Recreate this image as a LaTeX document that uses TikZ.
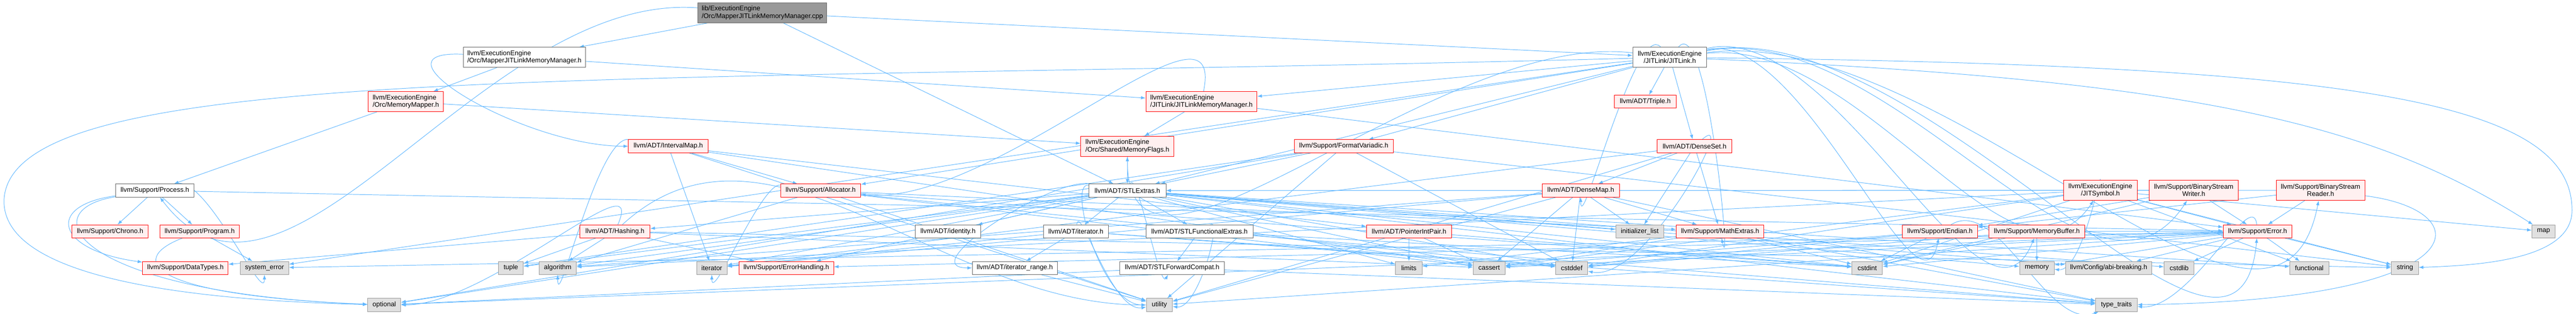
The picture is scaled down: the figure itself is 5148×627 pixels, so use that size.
\documentclass[tikz,border=0pt]{standalone}
\usepackage{fontspec}
\setmainfont{Liberation Sans}
\usetikzlibrary{arrows.meta,backgrounds}

\definecolor{edgeblue}{RGB}{99,184,255}
\definecolor{redfill}{RGB}{255,240,240}
\definecolor{grayfill}{RGB}{224,224,224}
\definecolor{grayline}{RGB}{153,153,153}
\definecolor{darkline}{RGB}{102,102,102}

\tikzset{
  incbox/.style={draw, line width=0.75pt, font=\fontsize{10pt}{11pt}\selectfont, inner xsep=2pt, inner ysep=1pt, minimum height=19.5pt},
  rootbox/.style={incbox, fill=grayline, draw=darkline},
  whitebox/.style={incbox, fill=white, draw=darkline},
  redbox/.style={incbox, fill=redfill, draw=red},
  sysbox/.style={incbox, fill=grayfill, draw=grayline},
  bw/.style={minimum width=#1*0.75pt},
  twoline/.style={minimum height=30pt, align=#1},
  dep/.style={draw=edgeblue, line width=0.75pt, -{Latex[length=7pt,width=5pt]}}
}

\begin{document}
\begin{tikzpicture}[x=0.75pt,y=0.75pt,yscale=-1,xscale=1]
\useasboundingbox (0,0) rectangle (5148,627);

% Text Node
\draw (1523.5,25.5) node [rootbox, bw=257, twoline=left] (cpp) {lib/ExecutionEngine\\/Orc/MapperJITLinkMemoryManager.cpp};
% Text Node
\draw (1048,114.5) node [whitebox, bw=244, twoline=left] (mjlmmh) {llvm/ExecutionEngine\\/Orc/MapperJITLinkMemoryManager.h};
% Text Node
\draw (3337,114.5) node [whitebox, bw=148, twoline=center] (jitlink) {llvm/ExecutionEngine\\/JITLink/JITLink.h};
% Text Node
\draw (811,203) node [redbox, bw=150, twoline=left] (memmapper) {llvm/ExecutionEngine\\/Orc/MemoryMapper.h};
% Text Node
\draw (2401,203) node [redbox, bw=222, twoline=left] (jlmm) {llvm/ExecutionEngine\\/JITLink/JITLinkMemoryManager.h};
% Text Node
\draw (3288,203) node [redbox, bw=124] (triple) {llvm/ADT/Triple.h};
% Text Node
\draw (1335.5,292) node [redbox, bw=159] (intervalmap) {llvm/ADT/IntervalMap.h};
% Text Node
\draw (2253,292) node [redbox, bw=186, twoline=left] (memflags) {llvm/ExecutionEngine\\/Orc/Shared/MemoryFlags.h};
% Text Node
\draw (2685.5,292) node [redbox, bw=197] (formatv) {llvm/Support/FormatVariadic.h};
% Text Node
\draw (3386.5,292) node [redbox, bw=149] (denseset) {llvm/ADT/DenseSet.h};
% Text Node
\draw (309.5,380.5) node [whitebox, bw=157] (process) {llvm/Support/Process.h};
% Text Node
\draw (1640,380.5) node [redbox, bw=160] (allocator) {llvm/Support/Allocator.h};
% Text Node
\draw (2253,380.5) node [whitebox, bw=154] (stlextras) {llvm/ADT/STLExtras.h};
% Text Node
\draw (3159,380.5) node [redbox, bw=154] (densemap) {llvm/ADT/DenseMap.h};
% Text Node
\draw (4197.5,380) node [redbox, bw=147, twoline=center] (jitsymbol) {llvm/ExecutionEngine\\/JITSymbol.h};
% Text Node
\draw (4384,380) node [redbox, bw=178, twoline=center] (bswriter) {llvm/Support/BinaryStream\\Writer.h};
% Text Node
\draw (4637.5,380) node [redbox, bw=177, twoline=center] (bsreader) {llvm/Support/BinaryStream\\Reader.h};
% Text Node
\draw (220,462) node [redbox, bw=152] (chrono) {llvm/Support/Chrono.h};
% Text Node
\draw (399,462) node [redbox, bw=158] (program) {llvm/Support/Program.h};
% Text Node
\draw (1229,462) node [redbox, bw=140] (hashing) {llvm/ADT/Hashing.h};
% Text Node
\draw (1894.5,462) node [whitebox, bw=131] (identity) {llvm/ADT/identity.h};
% Text Node
\draw (2150,462) node [whitebox, bw=130] (iteratorh) {llvm/ADT/iterator.h};
% Text Node
\draw (2397,462) node [whitebox, bw=214] (stlfunc) {llvm/ADT/STLFunctionalExtras.h};
% Text Node
\draw (2816,462) node [redbox, bw=170] (pointerint) {llvm/ADT/PointerIntPair.h};
% Text Node
\draw (3277,462) node [sysbox, bw=96] (initlist) {initializer\_list};
% Text Node
\draw (3437.5,462) node [redbox, bw=175] (mathextras) {llvm/Support/MathExtras.h};
% Text Node
\draw (3877,462) node [redbox, bw=150] (endian) {llvm/Support/Endian.h};
% Text Node
\draw (4070.5,462) node [redbox, bw=191] (memorybuffer) {llvm/Support/MemoryBuffer.h};
% Text Node
\draw (4511.5,462) node [redbox, bw=137] (errorh) {llvm/Support/Error.h};
% Text Node
\draw (5083,462) node [sysbox, bw=46] (map) {map};
% Text Node
\draw (370.5,535) node [redbox, bw=171] (datatypes) {llvm/Support/DataTypes.h};
% Text Node
\draw (528.5,535) node [sysbox, bw=97] (syserror) {system\_error};
% Text Node
\draw (1021,535) node [sysbox, bw=50] (tuple) {tuple};
% Text Node
\draw (1114.5,535) node [sysbox, bw=75] (algorithm) {algorithm};
% Text Node
\draw (1422.5,535) node [sysbox, bw=61] (iterator) {iterator};
% Text Node
\draw (1571.5,535) node [redbox, bw=189] (errhandling) {llvm/Support/ErrorHandling.h};
% Text Node
\draw (2028,535) node [whitebox, bw=170] (iterrange) {llvm/ADT/iterator\_range.h};
% Text Node
\draw (2342.5,535) node [whitebox, bw=209] (stlfwd) {llvm/ADT/STLForwardCompat.h};
% Text Node
\draw (2815.5,535) node [sysbox, bw=53] (limits) {limits};
% Text Node
\draw (2976,535) node [sysbox, bw=64] (cassert) {cassert};
% Text Node
\draw (3141,535) node [sysbox, bw=64] (cstddef) {cstddef};
% Text Node
\draw (3731.5,535) node [sysbox, bw=61] (cstdint) {cstdint};
% Text Node
\draw (4070.5,535) node [sysbox, bw=69] (memory) {memory};
% Text Node
\draw (4214,535) node [sysbox, bw=172] (abibreaking) {llvm/Config/abi-breaking.h};
% Text Node
\draw (4355,535) node [sysbox, bw=60] (cstdlib) {cstdlib};
% Text Node
\draw (4615,535) node [sysbox, bw=78] (functional) {functional};
% Text Node
\draw (4806,535) node [sysbox, bw=54] (string) {string};
% Text Node
\draw (768,609) node [sysbox, bw=66] (optional) {optional};
% Text Node
\draw (2317,609) node [sysbox, bw=52] (utility) {utility};
% Text Node
\draw (4229.5,609) node [sysbox, bw=83] (typetraits) {type\_traits};

\begin{scope}[on background layer]
%Straight Lines: the .cpp file
\draw [dep] (cpp) -- (mjlmmh);
\draw [dep] (cpp) -- (stlextras);
\draw [dep] (cpp) -- (jitlink);
\draw [dep] (cpp) to [out=188,in=55] (process);
%Straight Lines: MapperJITLinkMemoryManager.h
\draw [dep] (mjlmmh) to [out=190,in=180,looseness=1.5] (intervalmap);
\draw [dep] (mjlmmh) -- (jlmm);
\draw [dep] (mjlmmh) -- (memmapper);
%Straight Lines: MemoryMapper.h
\draw [dep] (memmapper) -- (process);
\draw [dep] (memmapper) -- (memflags);
%Straight Lines: JITLink.h
\draw [dep] (jitlink) -- (triple);
\draw [dep] (jitlink) -- (jlmm);
\draw [dep] (jitlink) to [out=190,in=90] (memflags);
\draw [dep] (jitlink) -- (formatv);
\draw [dep] (jitlink) -- (denseset);
\draw [dep] (jitlink) to [out=240,in=90] (densemap);
\draw [dep] (jitlink) -- (stlextras);
\draw [dep] (jitlink) -- (allocator);
\draw [dep] (jitlink) to [out=-10,in=120] (jitsymbol);
\draw [dep] (jitlink) to [out=-15,in=120] (bswriter);
\draw [dep] (jitlink) to [out=-10,in=100] (bsreader);
\draw [dep] (jitlink) to [out=-20,in=100] (endian);
\draw [dep] (jitlink) to [out=-15,in=95] (errorh);
\draw [dep] (jitlink) to [out=-60,in=80] (mathextras);
\draw [dep] (jitlink) to [out=-20,in=110] (memorybuffer);
\draw [dep] (jitlink) .. controls (4400,160) and (4750,250) .. (map);
\draw [dep] (jitlink) .. controls (4700,130) and (5140,200) .. (5140,420) .. controls (5140,520) and (4950,530) .. (string);
\draw [dep] (jitlink) -- (syserror);
\draw [dep] (jitlink) .. controls (1200,170) and (20,120) .. (8,400) .. controls (5,560) and (400,600) .. (optional);
%Straight Lines: JITLinkMemoryManager.h
\draw [dep] (jlmm) -- (memflags);
\draw [dep] (jlmm) to [out=-80,in=10] (allocator);
\draw [dep] (jlmm) -- (errorh);
%Straight Lines: MemoryFlags.h
\draw [dep] (memflags) -- (stlextras);
%Straight Lines: IntervalMap.h
\draw [dep] (intervalmap) -- (pointerint);
\draw [dep] (intervalmap) -- (allocator);
\draw [dep] (intervalmap) to [out=200,in=90] (algorithm);
\draw [dep] (intervalmap) -- (cassert);
\draw [dep] (intervalmap) -- (iterator);
\draw [dep] (intervalmap) -- (utility);
%Straight Lines: Process.h
\draw [dep] (process) -- (chrono);
\draw [dep] (process) -- (program);
\draw [dep] (process) .. controls (90,410) and (110,500) .. (datatypes);
\draw [dep] (process) to [out=-30,in=90] (syserror);
\draw [dep] (process) .. controls (60,420) and (150,585) .. (optional);
\draw [dep] (process) -- (errorh);
%Straight Lines: Program.h
\draw [dep] (program) -- (syserror);
\draw [dep] (program) .. controls (250,520) and (300,590) .. (optional);
%Straight Lines: Allocator.h
\draw [dep] (allocator) -- (mathextras);
\draw [dep] (allocator) -- (algorithm);
\draw [dep] (allocator) -- (cassert);
\draw [dep] (allocator) -- (cstddef);
\draw [dep] (allocator) -- (cstdint);
\draw [dep] (allocator) to [out=200,in=90] (iterator);
\draw [dep] (allocator) -- (utility);
%Straight Lines: STLExtras.h
\draw [dep] (stlextras) -- (hashing);
\draw [dep] (stlextras) to [out=-75,in=110] (stlfwd);
\draw [dep] (stlextras) -- (stlfunc);
\draw [dep] (stlextras) -- (identity);
\draw [dep] (stlextras) -- (iteratorh);
\draw [dep] (stlextras) to [out=200,in=180] (iterrange);
\draw [dep] (stlextras) -- (abibreaking);
\draw [dep] (stlextras) -- (errhandling);
\draw [dep] (stlextras) -- (algorithm);
\draw [dep] (stlextras) -- (cassert);
\draw [dep] (stlextras) -- (cstddef);
\draw [dep] (stlextras) -- (cstdint);
\draw [dep] (stlextras) -- (cstdlib);
\draw [dep] (stlextras) -- (functional);
\draw [dep] (stlextras) -- (initlist);
\draw [dep] (stlextras) -- (iterator);
\draw [dep] (stlextras) -- (limits);
\draw [dep] (stlextras) -- (memory);
\draw [dep] (stlextras) -- (optional);
\draw [dep] (stlextras) -- (tuple);
\draw [dep] (stlextras) -- (typetraits);
\draw [dep] (stlextras) to [out=200,in=180] (utility);
%Straight Lines: Hashing.h
\draw [dep] (hashing) -- (datatypes);
\draw [dep] (hashing) -- (errhandling);
\draw [dep] (hashing) -- (algorithm);
\draw [dep] (hashing) -- (cassert);
\draw [dep] (hashing) to [out=-70,in=0] (optional);
\draw [dep] (hashing) -- (string);
\draw [dep] (hashing) -- (tuple);
\draw [dep] (hashing) to [out=-45,in=180] (utility);
%Straight Lines: iterator.h
\draw [dep] (iteratorh) -- (iterrange);
\draw [dep] (iteratorh) -- (cstddef);
\draw [dep] (iteratorh) -- (iterator);
\draw [dep] (iteratorh) -- (typetraits);
\draw [dep] (iteratorh) to [out=-85,in=160] (utility);
%Straight Lines: iterator_range.h
\draw [dep] (iterrange) -- (utility);
%Straight Lines: STLFunctionalExtras.h
\draw [dep] (stlfunc) -- (stlfwd);
\draw [dep] (stlfunc) -- (cstdint);
\draw [dep] (stlfunc) -- (typetraits);
\draw [dep] (stlfunc) to [out=-50,in=20] (utility);
%Straight Lines: STLForwardCompat.h
\draw [dep] (stlfwd) -- (optional);
\draw [dep] (stlfwd) -- (typetraits);
%Straight Lines: FormatVariadic.h
\draw [dep] (formatv) -- (stlextras);
\draw [dep] (formatv) -- (cstddef);
\draw [dep] (formatv) -- (optional);
\draw [dep] (formatv) -- (string);
\draw [dep] (formatv) -- (tuple);
\draw [dep] (formatv) -- (utility);
%Straight Lines: DenseSet.h
\draw [dep] (denseset) -- (densemap);
\draw [dep] (denseset) -- (mathextras);
\draw [dep] (denseset) -- (initlist);
\draw [dep] (denseset) to [out=-50,in=20] (cstddef);
\draw [dep] (denseset) -- (iterator);
\draw [dep] (denseset) -- (utility);
%Straight Lines: DenseMap.h
\draw [dep] (densemap) -- (mathextras);
\draw [dep] (densemap) -- (algorithm);
\draw [dep] (densemap) -- (cassert);
\draw [dep] (densemap) -- (cstddef);
\draw [dep] (densemap) -- (initlist);
\draw [dep] (densemap) -- (iterator);
\draw [dep] (densemap) -- (typetraits);
\draw [dep] (densemap) -- (utility);
%Straight Lines: PointerIntPair.h
\draw [dep] (pointerint) -- (limits);
\draw [dep] (pointerint) -- (cassert);
\draw [dep] (pointerint) -- (cstdint);
%Straight Lines: MathExtras.h
\draw [dep] (mathextras) -- (cassert);
\draw [dep] (mathextras) -- (cstdint);
\draw [dep] (mathextras) -- (limits);
\draw [dep] (mathextras) -- (typetraits);
%Straight Lines: Endian.h
\draw [dep] (endian) -- (cassert);
\draw [dep] (endian) -- (cstddef);
\draw [dep] (endian) -- (cstdint);
\draw [dep] (endian) to [out=-40,in=150] (typetraits);
%Straight Lines: MemoryBuffer.h
\draw [dep] (memorybuffer) -- (errorh);
\draw [dep] (memorybuffer) -- (cstddef);
\draw [dep] (memorybuffer) -- (cstdint);
\draw [dep] (memorybuffer) -- (memory);
%Straight Lines: JITSymbol.h
\draw [dep] (jitsymbol) -- (errorh);
\draw [dep] (jitsymbol) -- (algorithm);
\draw [dep] (jitsymbol) -- (cassert);
\draw [dep] (jitsymbol) -- (cstddef);
\draw [dep] (jitsymbol) -- (cstdint);
\draw [dep] (jitsymbol) -- (functional);
\draw [dep] (jitsymbol) -- (map);
\draw [dep] (jitsymbol) to [out=-90,in=20] (memory);
\draw [dep] (jitsymbol) -- (string);
%Straight Lines: BinaryStreamWriter.h
\draw [dep] (bswriter) -- (stlextras);
\draw [dep] (bswriter) -- (endian);
\draw [dep] (bswriter) -- (errorh);
\draw [dep] (bswriter) -- (cstdint);
%Straight Lines: BinaryStreamReader.h
\draw [dep] (bsreader) -- (stlextras);
\draw [dep] (bsreader) -- (endian);
\draw [dep] (bsreader) -- (errorh);
\draw [dep] (bsreader) .. controls (4960,420) and (4960,600) .. (typetraits);
%Straight Lines: Error.h
\draw [dep] (errorh) -- (abibreaking);
\draw [dep] (errorh) -- (errhandling);
\draw [dep] (errorh) -- (cassert);
\draw [dep] (errorh) -- (cstdint);
\draw [dep] (errorh) -- (cstdlib);
\draw [dep] (errorh) -- (functional);
\draw [dep] (errorh) -- (memory);
\draw [dep] (errorh) -- (optional);
\draw [dep] (errorh) -- (string);
\draw [dep] (errorh) -- (syserror);
\draw [dep] (errorh) to [out=-95,in=10] (typetraits);
\draw [dep] (errorh) -- (utility);
\end{scope}

\end{tikzpicture}
\end{document}
